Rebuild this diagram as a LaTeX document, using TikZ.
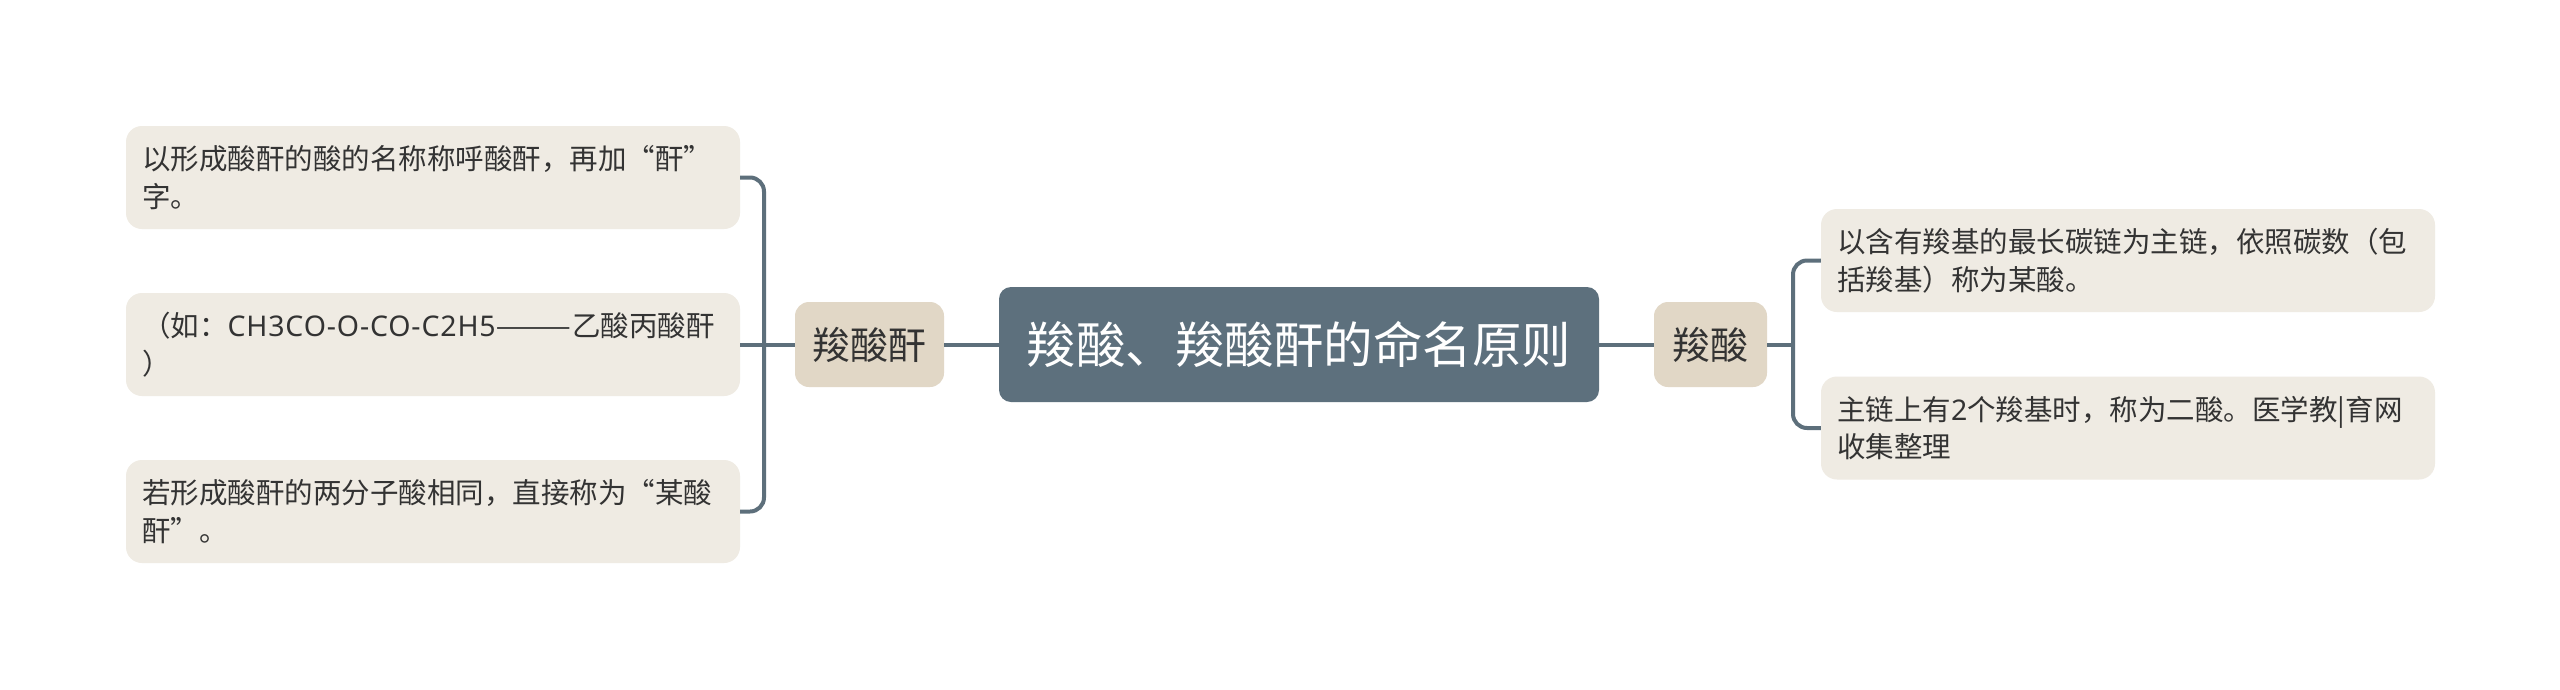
\documentclass[tikz,border=0pt]{standalone}
\usepackage{fontspec}
\usepackage{graphicx}
\newfontfamily\cjk{Noto Sans CJK SC}
\newfontfamily\lat[LetterSpace=3]{Noto Sans}
\definecolor{leafc}{HTML}{EFEBE3}
\definecolor{branchc}{HTML}{E1D7C6}
\definecolor{centerc}{HTML}{5D707D}
\definecolor{linec}{HTML}{5D6F7B}
\definecolor{txt}{HTML}{333333}
\begin{document}
\begin{tikzpicture}[x=1pt,y=-1pt,
  leaf/.style={fill=leafc, rounded corners=16pt, minimum width=614pt, minimum height=103pt,
    text width=582pt, inner sep=0pt, align=left, text=txt,
    font=\cjk\fontsize{28.5}{37.6}\selectfont},
  branch/.style={fill=branchc, rounded corners=14pt, minimum height=85pt, inner sep=0pt,
    text=txt, font=\cjk\fontsize{38}{44}\selectfont},
  central/.style={fill=centerc, rounded corners=12pt, minimum width=600pt, minimum height=115pt,
    inner sep=0pt, text=white, font=\cjk\fontsize{49.5}{56}\selectfont},
  conn/.style={draw=linec, line width=4pt, rounded corners=14pt}
]
\useasboundingbox[fill=white] (0,0) rectangle (2560,689);

\node[central] (c) at (1299,344.5) {羧酸、羧酸酐的命名原则};
\node[branch, minimum width=149pt] (lb) at (869.5,344.5) {羧酸酐};
\node[branch, minimum width=113pt] (rb) at (1710.5,344.5) {羧酸};

\node[leaf] (l1) at (433,177.5) {以形成酸酐的酸的名称称呼酸酐，再加“酐”\\字。};
\node[leaf] (l2) at (433,344.5) {（如：{\lat CH3CO-O-CO-C2H5}\scalebox{1.6}[1]{——}乙酸丙酸酐\\）};
\node[leaf] (l3) at (433,511.5) {若形成酸酐的两分子酸相同，直接称为“某酸\\酐”。};

\node[leaf] (r1) at (2128,260.5) {以含有羧基的最长碳链为主链，依照碳数（包\\括羧基）称为某酸。};
\node[leaf] (r2) at (2128,428) {主链上有{\lat 2}个羧基时，称为二酸。医学教|育网\\收集整理};

\coordinate (jl) at (764,344.5);
\coordinate (jr) at (1793,344.5);

\draw[conn] (c.west) -- (lb.east);
\draw[conn] (c.east) -- (rb.west);
\draw[conn] (lb.west) -- (jl);
\draw[conn] (l1.east) -- (jl |- l1.east) -- (jl |- l3.east) -- (l3.east);
\draw[conn] (l2.east) -- (jl);
\draw[conn] (rb.east) -- (jr);
\draw[conn] (r1.west) -- (jr |- r1.west) -- (jr |- r2.west) -- (r2.west);
\end{tikzpicture}
\end{document}
